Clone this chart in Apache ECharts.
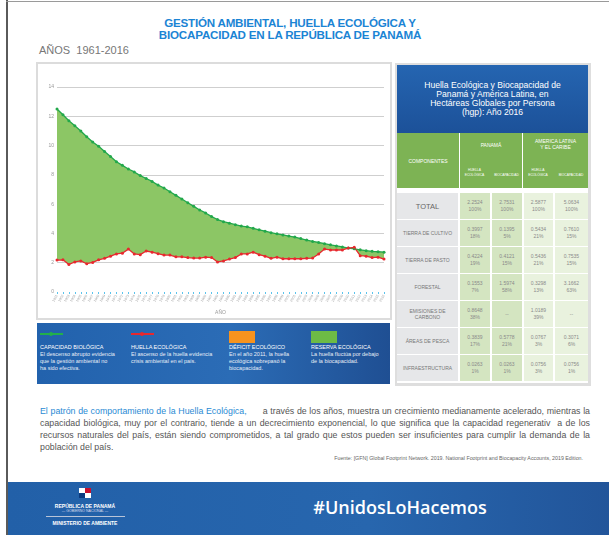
<!DOCTYPE html>
<html>
<head>
<meta charset="utf-8">
<script src="https://cdn.jsdelivr.net/npm/echarts@6.0.0/dist/echarts.min.js"></script>
<style>
  body { margin: 0; width: 609px; height: 535px; position: relative; overflow: hidden; background: #fff; font-family: "Liberation Sans", Arial, sans-serif; }
  .abs { position: absolute; }
  .leg-title { font-size: 5.5px; color: #fff; line-height: 7px; }
  .leg-text { font-size: 5.5px; color: #e8eef7; line-height: 7px; }
  .cell { position: absolute; display: flex; flex-direction: column; align-items: center; justify-content: center; text-align: center; box-sizing: border-box; }
  .just { text-align: justify; text-align-last: justify; white-space: nowrap; }
</style>
</head>
<body>
<!-- marco de la pagina -->
<div class="abs" style="left:6px;top:0;width:2px;height:535px;background:#5a5a5a"></div>
<div class="abs" style="left:6px;top:1px;width:603px;height:1px;background:#9a9a9a"></div>

<div class="abs" style="left:0;top:17px;width:580px;text-align:center;font-weight:bold;font-size:11.6px;line-height:11.5px;color:#1b84d4;letter-spacing:-0.2px">
  GESTIÓN AMBIENTAL, HUELLA ECOLÓGICA Y<br>BIOCAPACIDAD EN LA REPÚBLICA DE PANAMÁ
</div>
<div class="abs" style="left:39px;top:44px;font-size:11px;color:#777">AÑOS&nbsp; 1961-2016</div>

<!-- grafico -->
<div class="abs" style="left:36px;top:62px;width:352px;height:254px;border:2px solid #dcdcdc"></div>
<div id="chart" class="abs" style="left:38px;top:64px;width:352px;height:254px"></div>

<!-- leyenda -->
<div class="abs" style="left:37px;top:323px;width:353px;height:61px;background:linear-gradient(to right,#2262ad,#2b6cb6 55%,#1f4f93)">
  <div class="abs" style="left:3px;top:10px;width:23px;height:1.5px;background:#22b04b"></div>
  <div class="abs" style="left:12px;top:8.5px;width:4px;height:4px;border-radius:2px;background:#22b04b"></div>
  <div class="abs leg-title" style="left:3px;top:21px">CAPACIDAD BIOLÓGICA</div>
  <div class="abs leg-text" style="left:3px;top:28px">El descenso abrupto evidencia<br>que la gestión ambiental no<br>ha sido efectiva.</div>

  <div class="abs" style="left:94px;top:10px;width:23px;height:1.5px;background:#e8282e"></div>
  <div class="abs" style="left:103px;top:8.5px;width:4px;height:4px;border-radius:2px;background:#e8282e"></div>
  <div class="abs leg-title" style="left:94px;top:21px">HUELLA ECOLÓGICA</div>
  <div class="abs leg-text" style="left:94px;top:28px">El ascenso de la huella evidencia<br>crisis ambiental en el país.</div>

  <div class="abs" style="left:192px;top:8px;width:26px;height:12px;background:#f7931e"></div>
  <div class="abs leg-title" style="left:192px;top:21px">DÉFICIT ECOLÓGICO</div>
  <div class="abs leg-text" style="left:192px;top:28px">En el año 2011, la huella<br>ecológica sobrepasó la<br>biocapacidad.</div>

  <div class="abs" style="left:274px;top:8px;width:26px;height:12px;background:#6dbb45"></div>
  <div class="abs leg-title" style="left:274px;top:21px">RESERVA ECOLÓGICA</div>
  <div class="abs leg-text" style="left:274px;top:28px">La huella fluctúa por debajo<br>de la biocapacidad.</div>
</div>

<!-- tabla -->
<div id="tabla" class="abs" style="left:395px;top:63px;width:196px;height:323px;background:#dedede"></div>

<!-- texto -->
<div class="abs" style="left:40px;top:405px;width:550px;font-size:8.8px;line-height:12px;color:#555">
  <div class="just"><span style="color:#2a8ad4">El patrón de comportamiento de la Huella Ecológica,</span>&nbsp;&nbsp;&nbsp;&nbsp;&nbsp; a través de los años, muestra un crecimiento medianamente acelerado, mientras la</div>
  <div class="just">capacidad biológica, muy por el contrario, tiende a un decrecimiento exponencial, lo que significa que la capacidad regenerativ&nbsp; a de los</div>
  <div class="just">recursos naturales del país, están siendo comprometidos, a tal grado que estos pueden ser insuficientes para cumplir la demanda de la</div>
  <div>población del país.</div>
</div>
<div class="abs" style="left:200px;top:455px;width:383px;text-align:right;font-size:5.3px;color:#666">Fuente: [GFN] Global Footprint Network. 2019. National Footprint and Biocapacity Accounts, 2019 Edition.</div>

<!-- pie -->
<div class="abs" style="left:8px;top:482px;width:601px;height:53px;background:linear-gradient(to right,#2260a8,#2766ae 60%,#22559a)">
  <div class="abs" style="left:71px;top:6px;width:6px;height:5px;background:#fff"></div>
  <div class="abs" style="left:77px;top:6px;width:6px;height:5px;background:#c8102e"></div>
  <div class="abs" style="left:71px;top:11px;width:6px;height:5px;background:#0a3a80"></div>
  <div class="abs" style="left:77px;top:11px;width:6px;height:5px;background:#fff"></div>
  <div class="abs" style="left:0;top:21px;width:154px;text-align:center;font-size:5px;font-weight:bold;color:#fff">REPÚBLICA DE PANAMÁ</div>
  <div class="abs" style="left:0;top:27px;width:154px;text-align:center;font-size:3.5px;color:#dde">— GOBIERNO NACIONAL —</div>
  <div class="abs" style="left:38px;top:34px;width:79px;height:1px;background:#b8c4d8"></div>
  <div class="abs" style="left:0;top:38px;width:154px;text-align:center;font-size:5px;font-weight:bold;color:#fff">MINISTERIO DE AMBIENTE</div>
  <div class="abs" style="left:303px;top:13px;width:178px;text-align:center;font-family:'Open Sans',sans-serif;font-weight:600;font-size:18px;color:#fff">#UnidosLoHacemos</div>
</div>

<script>
// datos del grafico (hgp por persona)
const anios = ['1961','1962','1963','1964','1965','1966','1967','1968','1969','1970',
  '1971','1972','1973','1974','1975','1976','1977','1978','1979','1980',
  '1981','1982','1983','1984','1985','1986','1987','1988','1989','1990',
  '1991','1992','1993','1994','1995','1996','1997','1998','1999','2000',
  '2001','2002','2003','2004','2005','2006','2007','2008','2009','2010',
  '2011','2012','2013','2014','2015','2016']
const biocapacidad = [12.5, 12.1, 11.7, 11.35, 11.0, 10.6, 10.25, 9.95, 9.6, 9.25,
  8.9, 8.65, 8.4, 8.2, 7.95, 7.75, 7.55, 7.3, 7.1, 6.85,
  6.6, 6.35, 6.1, 5.85, 5.6, 5.4, 5.15, 4.95, 4.8, 4.7,
  4.6, 4.5, 4.45, 4.35, 4.25, 4.15, 4.05, 3.97, 3.9, 3.82,
  3.75, 3.65, 3.55, 3.45, 3.38, 3.3, 3.22, 3.15, 3.08, 3.0,
  2.95, 2.88, 2.82, 2.78, 2.75, 2.72]
const huella = [2.18, 2.2, 1.88, 2.05, 2.12, 1.93, 2.02, 2.2, 2.3, 2.45,
  2.6, 2.65, 2.93, 2.6, 2.55, 2.8, 2.72, 2.62, 2.52, 2.52,
  2.4, 2.4, 2.35, 2.32, 2.32, 2.38, 2.35, 2.05, 2.12, 2.25,
  2.35, 2.6, 2.6, 2.72, 2.55, 2.45, 2.3, 2.38, 2.27, 2.27,
  2.27, 2.27, 2.3, 2.32, 2.6, 2.93, 2.87, 2.87, 2.87, 3.0,
  3.05, 2.48, 2.45, 2.35, 2.38, 2.25]

// datos de la tabla (2016)
const componentes = ['TOTAL', 'TIERRA DE CULTIVO', 'TIERRA DE PASTO', 'FORESTAL', 'EMISIONES DE<br>CARBONO', 'ÁREAS DE PESCA', 'INFRAESTRUCTURA']
const panamaHuella = [['2.2524', '100%'], ['0.3997', '18%'], ['0.4224', '19%'], ['0.1553', '7%'], ['0.8648', '38%'], ['0.3839', '17%'], ['0.0263', '1%']]
const panamaBio = [['2.7531', '100%'], ['0.1395', '5%'], ['0.4121', '15%'], ['1.5974', '58%'], ['--', ''], ['0.5778', '21%'], ['0.0263', '1%']]
const alcHuella = [['2.5877', '100%'], ['0.5434', '21%'], ['0.5436', '21%'], ['0.3298', '13%'], ['1.0189', '39%'], ['0.0767', '3%'], ['0.0756', '3%']]
const alcBio = [['5.0634', '100%'], ['0.7610', '15%'], ['0.7535', '15%'], ['3.1662', '63%'], ['--', ''], ['0.3071', '6%'], ['0.0756', '1%']]

const brecha = biocapacidad.map((v, i) => +(v - huella[i]).toFixed(3))

let chart = echarts.init(document.getElementById('chart'))
chart.setOption({
  animation: false,
  grid: { left: 19, top: 23, width: 327, height: 205, outerBoundsMode: 'none' },
  xAxis: {
    type: 'category',
    data: anios,
    boundaryGap: false,
    name: 'AÑO',
    nameLocation: 'middle',
    nameGap: 15,
    nameTextStyle: { fontSize: 5, color: '#999' },
    axisLine: { show: false },
    axisTick: { show: true, interval: 0, length: 2, lineStyle: { color: '#5bc3ec', width: 1 } },
    axisLabel: { interval: 0, rotate: 60, fontSize: 3.5, color: '#aaa', margin: 3 }
  },
  yAxis: {
    type: 'value',
    min: 0,
    max: 14,
    interval: 2,
    name: 'HECTÁREAS GLOBALES POR PERSONA',
    nameLocation: 'middle',
    nameGap: 13,
    nameTextStyle: { fontSize: 4.5, color: '#999' },
    axisLine: { show: false },
    axisTick: { show: false },
    axisLabel: { fontSize: 5, color: '#999', margin: 3 },
    splitLine: { showMinLine: false, lineStyle: { color: '#cfcfcf', width: 1 } }
  },
  series: [
    {
      name: 'base',
      type: 'line',
      data: huella,
      stack: 'reserva',
      stackStrategy: 'all',
      symbol: 'none',
      silent: true,
      lineStyle: { opacity: 0 }
    },
    {
      name: 'reserva',
      type: 'line',
      data: brecha,
      stack: 'reserva',
      stackStrategy: 'all',
      symbol: 'none',
      silent: true,
      lineStyle: { opacity: 0 },
      areaStyle: { color: '#8cc665', opacity: 1 }
    },
    {
      name: 'CAPACIDAD BIOLÓGICA',
      type: 'line',
      data: biocapacidad,
      symbol: 'circle',
      symbolSize: 3,
      itemStyle: { color: '#22a84b' },
      lineStyle: { color: '#22a84b', width: 1.3 }
    },
    {
      name: 'HUELLA ECOLÓGICA',
      type: 'line',
      data: huella,
      symbol: 'circle',
      symbolSize: 3,
      itemStyle: { color: '#e8282e' },
      lineStyle: { color: '#e8282e', width: 1.3 }
    }
  ]
})

// tabla
let tabla = document.getElementById('tabla')
function celda (x, y, w, h, bg, html, css) {
  let d = document.createElement('div')
  d.className = 'cell'
  d.style.left = x + 'px'
  d.style.top = y + 'px'
  d.style.width = w + 'px'
  d.style.height = h + 'px'
  d.style.background = bg
  d.innerHTML = html
  if (css) d.style.cssText += css
  tabla.appendChild(d)
  return d
}
// fondo blanco interior
celda(2, 2, 191, 318, '#fff', '')
celda(2, 2, 191, 68, 'linear-gradient(#2565b1,#1c5199)',
  'Huella Ecológica y Biocapacidad de<br>Panamá y América Latina, en<br>Hectáreas Globales por Persona<br>(hgp): Año 2016',
  'color:#fff;font-size:8.6px;line-height:8.8px;')
celda(2, 70, 62, 55, '#7db354', 'COMPONENTES', 'color:#fff;font-size:5px;')
let p = celda(65, 70, 62, 55, '#7db354', '', 'justify-content:flex-start;color:#fff;')
p.innerHTML = '<div style="font-size:5px;margin-top:9px">PANAMÁ</div>'
let a = celda(128, 70, 65, 55, '#7db354', '', 'justify-content:flex-start;color:#fff;')
a.innerHTML = '<div style="font-size:5px;line-height:6px;margin-top:5px">AMERICA LATINA<br>Y EL CARIBE</div>'
const colX = [2, 64, 96, 128, 159]
const colW = [61, 31, 31, 30, 34]
const sub = ['HUELLA<br>ECOLÓGICA', 'BIOCAPACIDAD', 'HUELLA<br>ECOLÓGICA', 'BIOCAPACIDAD']
sub.forEach((t, j) => {
  celda(colX[j + 1], 100, colW[j + 1], 14, 'transparent', t, 'color:#fff;font-size:3.3px;line-height:4.3px;justify-content:flex-end;')
})
const cols = [panamaHuella, panamaBio, alcHuella, alcBio]
const fondos = ['#d4e5c1', '#d4e5c1', '#e9f2de', '#e9f2de']
componentes.forEach((c, i) => {
  let y = 130 + i * 27
  celda(colX[0], y, colW[0], 26, '#e6e7e9', c,
    i === 0 ? 'color:#666;font-size:7.5px;' : 'color:#777;font-size:5px;line-height:6px;')
  cols.forEach((col, j) => {
    let v = col[i]
    celda(colX[j + 1] + 1, y, colW[j + 1] - 1, 26, fondos[j],
      v[0] + (v[1] ? '<br>' + v[1] : ''), 'color:#8a8a8a;font-size:5px;line-height:7px;')
  })
})
</script>
</body>
</html>
